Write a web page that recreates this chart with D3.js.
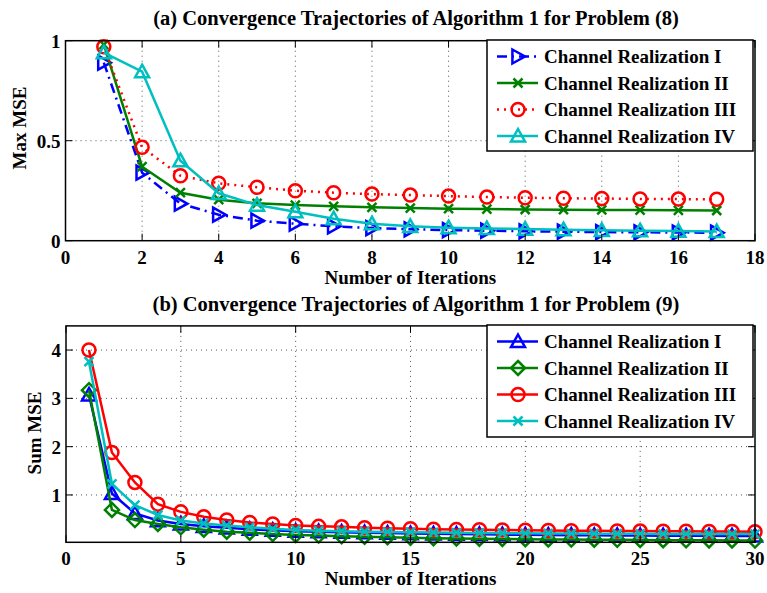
<!DOCTYPE html>
<html>
<head>
<meta charset="utf-8">
<script src="https://cdn.jsdelivr.net/npm/d3@7"></script>
<style>
  body { margin: 0; background: #fff; }
  text { font-family: "Liberation Serif", "Times New Roman", serif; font-weight: bold; }
</style>
</head>
<body>
<svg id="chart" width="767" height="593"></svg>
<script>
// ---- data ----
const seriesNames = ["Channel Realization I", "Channel Realization II", "Channel Realization III", "Channel Realization IV"];

// (a) Max MSE, iterations 1..17
const iterA = d3.range(1, 18);
const maxI   = [0.89, 0.34, 0.185, 0.13, 0.10, 0.085, 0.072, 0.063, 0.057, 0.053, 0.050, 0.047, 0.045, 0.043, 0.042, 0.041, 0.040];
const maxII  = [0.98, 0.37, 0.24, 0.205, 0.187, 0.178, 0.172, 0.167, 0.163, 0.160, 0.158, 0.156, 0.155, 0.154, 0.153, 0.152, 0.151];
const maxIII = [0.97, 0.467, 0.325, 0.287, 0.267, 0.25, 0.24, 0.233, 0.228, 0.223, 0.218, 0.215, 0.212, 0.211, 0.209, 0.208, 0.207];
const maxIV  = [0.94, 0.845, 0.40, 0.237, 0.178, 0.145, 0.11, 0.085, 0.072, 0.065, 0.061, 0.058, 0.055, 0.052, 0.050, 0.048, 0.046];

// (b) Sum MSE, iterations 1..30
const iterB = d3.range(1, 31);
const sumI   = [3.07, 1.03, 0.62, 0.47, 0.40, 0.35, 0.32, 0.29, 0.27, 0.25, 0.24, 0.23, 0.22, 0.21, 0.20, 0.195, 0.19, 0.185, 0.18, 0.175, 0.17, 0.168, 0.165, 0.162, 0.16, 0.158, 0.156, 0.154, 0.152, 0.15];
const sumII  = [3.17, 0.69, 0.48, 0.40, 0.33, 0.28, 0.24, 0.22, 0.19, 0.17, 0.16, 0.145, 0.135, 0.125, 0.115, 0.105, 0.10, 0.095, 0.09, 0.085, 0.08, 0.077, 0.074, 0.071, 0.068, 0.065, 0.062, 0.06, 0.058, 0.056];
const sumIII = [4.0, 1.88, 1.26, 0.81, 0.65, 0.55, 0.48, 0.43, 0.40, 0.37, 0.35, 0.34, 0.32, 0.31, 0.30, 0.29, 0.285, 0.28, 0.275, 0.27, 0.265, 0.26, 0.258, 0.255, 0.252, 0.25, 0.248, 0.245, 0.242, 0.24];
const sumIV  = [3.76, 1.23, 0.79, 0.585, 0.47, 0.41, 0.37, 0.33, 0.30, 0.275, 0.26, 0.25, 0.24, 0.235, 0.23, 0.225, 0.22, 0.215, 0.21, 0.207, 0.204, 0.201, 0.199, 0.197, 0.195, 0.194, 0.193, 0.192, 0.191, 0.19];

const xTicksA = d3.range(0, 19, 2);
const yTicksA = [0, 0.5, 1];
const xTicksB = [0, 5, 10, 15, 20, 25, 30];
const yTicksB = [1, 2, 3, 4];

const colors = ["#0000ff", "#008000", "#ff0000", "#00bfbf"];

const svg = d3.select("#chart");

// marker shapes
function markerPath(type, s) {
  if (type === "triR") return `M${-s * 0.8},${-s} L${s},0 L${-s * 0.8},${s} Z`;
  if (type === "triU") return `M0,${-s} L${s},${s * 0.8} L${-s},${s * 0.8} Z`;
  if (type === "diamond") return `M0,${-s} L${s},0 L0,${s} L${-s},0 Z`;
  if (type === "x") return `M${-s},${-s} L${s},${s} M${-s},${s} L${s},${-s}`;
  return "";
}

function drawMarker(g, type, x, y, color) {
  if (type === "circle") {
    g.append("circle").attr("cx", x).attr("cy", y).attr("r", 6.5)
      .attr("fill", "none").attr("stroke", color).attr("stroke-width", 2.5);
  } else {
    const s = type === "x" ? 4.5 : 7;
    g.append("path").attr("d", markerPath(type, s))
      .attr("transform", `translate(${x},${y})`)
      .attr("fill", "none").attr("stroke", color).attr("stroke-width", 2.5)
      .attr("stroke-linejoin", "miter");
  }
}

function drawPanel(cfg) {
  const x = d3.scaleLinear().domain(cfg.xDomain).range([cfg.left, cfg.right]);
  const y = d3.scaleLinear().domain(cfg.yDomain).range([cfg.bottom, cfg.top]);
  const g = svg.append("g");

  // grid
  const grid = g.append("g").attr("stroke", "#555").attr("stroke-width", 1)
    .attr("stroke-dasharray", "1,4");
  cfg.xTicks.filter(t => t > cfg.xDomain[0] && t < cfg.xDomain[1]).forEach(t => {
    grid.append("line").attr("x1", x(t)).attr("x2", x(t)).attr("y1", cfg.top).attr("y2", cfg.bottom);
  });
  cfg.yTicks.filter(t => t > cfg.yDomain[0] && t < cfg.yDomain[1]).forEach(t => {
    grid.append("line").attr("x1", cfg.left).attr("x2", cfg.right).attr("y1", y(t)).attr("y2", y(t));
  });

  // series
  cfg.series.forEach((s, i) => {
    const line = d3.line().x((d, j) => x(cfg.iters[j])).y(d => y(d));
    g.append("path").datum(s.values)
      .attr("d", line)
      .attr("fill", "none")
      .attr("stroke", colors[i])
      .attr("stroke-width", 2.5)
      .attr("stroke-dasharray", s.dash || null);
    const mg = g.append("g");
    s.values.forEach((v, j) => drawMarker(mg, s.marker, x(cfg.iters[j]), y(v), colors[i]));
  });

  // box + ticks
  g.append("rect").attr("x", cfg.left).attr("y", cfg.top)
    .attr("width", cfg.right - cfg.left).attr("height", cfg.bottom - cfg.top)
    .attr("fill", "none").attr("stroke", "#000").attr("stroke-width", 1.5);
  const tk = g.append("g").attr("stroke", "#000").attr("stroke-width", 1);
  cfg.xTicks.forEach(t => {
    tk.append("line").attr("x1", x(t)).attr("x2", x(t)).attr("y1", cfg.bottom).attr("y2", cfg.bottom - 7);
    tk.append("line").attr("x1", x(t)).attr("x2", x(t)).attr("y1", cfg.top).attr("y2", cfg.top + 7);
  });
  cfg.yTicks.forEach(t => {
    tk.append("line").attr("x1", cfg.left).attr("x2", cfg.left + 7).attr("y1", y(t)).attr("y2", y(t));
    tk.append("line").attr("x1", cfg.right).attr("x2", cfg.right - 7).attr("y1", y(t)).attr("y2", y(t));
  });

  // tick labels
  cfg.xTicks.forEach(t => {
    g.append("text").attr("x", x(t)).attr("y", cfg.bottom + 23)
      .attr("text-anchor", "middle").attr("font-size", 19).text(t);
  });
  cfg.yTicks.forEach(t => {
    g.append("text").attr("x", cfg.left - 5).attr("y", y(t) + 7)
      .attr("text-anchor", "end").attr("font-size", 19).text(t);
  });

  // labels
  g.append("text").attr("x", (cfg.left + cfg.right) / 2).attr("y", cfg.bottom + 43)
    .attr("text-anchor", "middle").attr("font-size", 19).text("Number of Iterations");
  g.append("text").attr("transform", `translate(${cfg.yLabelX},${cfg.yLabelY}) rotate(-90)`)
    .attr("text-anchor", "middle").attr("font-size", 19).text(cfg.yLabel);
  g.append("text").attr("x", cfg.titleX).attr("y", cfg.titleY)
    .attr("text-anchor", "middle").attr("font-size", 20.5).text(cfg.title);

  // legend
  const lg = g.append("g");
  lg.append("rect").attr("x", cfg.legend.x).attr("y", cfg.legend.y)
    .attr("width", cfg.legend.w).attr("height", cfg.legend.h)
    .attr("fill", "#fff").attr("stroke", "#000").attr("stroke-width", 1.5);
  cfg.series.forEach((s, i) => {
    const cy = cfg.legend.y + 16.5 + i * 26.5;
    const lx = cfg.legend.x + 10;
    lg.append("line").attr("x1", lx).attr("x2", lx + 41).attr("y1", cy).attr("y2", cy)
      .attr("stroke", colors[i]).attr("stroke-width", 2.5)
      .attr("stroke-dasharray", s.dash || null);
    drawMarker(lg, s.marker, lx + 21, cy, colors[i]);
    lg.append("text").attr("x", cfg.legend.x + 57).attr("y", cy + 6.5)
      .attr("font-size", 19).text(seriesNames[i]);
  });
}

drawPanel({
  left: 65.5, right: 755, top: 40.7, bottom: 240.7,
  xDomain: [0, 18], yDomain: [0, 1],
  xTicks: xTicksA, yTicks: yTicksA,
  iters: iterA,
  series: [
    { values: maxI, marker: "triR", dash: "10,5,2,5" },
    { values: maxII, marker: "x" },
    { values: maxIII, marker: "circle", dash: "2,5" },
    { values: maxIV, marker: "triU" }
  ],
  yLabel: "Max MSE", yLabelX: 26, yLabelY: 128,
  title: "(a) Convergence Trajectories of Algorithm 1 for Problem (8)", titleX: 416, titleY: 25,
  legend: { x: 487, y: 40, w: 266, h: 111 }
});

drawPanel({
  left: 66, right: 755, top: 325.9, bottom: 542.3,
  xDomain: [0, 30], yDomain: [0.02, 4.5],
  xTicks: xTicksB, yTicks: yTicksB,
  iters: iterB,
  series: [
    { values: sumI, marker: "triU" },
    { values: sumII, marker: "diamond" },
    { values: sumIII, marker: "circle" },
    { values: sumIV, marker: "x" }
  ],
  yLabel: "Sum MSE", yLabelX: 41, yLabelY: 433,
  title: "(b) Convergence Trajectories of Algorithm 1 for Problem (9)", titleX: 416, titleY: 311,
  legend: { x: 487, y: 325, w: 266, h: 112 }
});
</script>
</body>
</html>
